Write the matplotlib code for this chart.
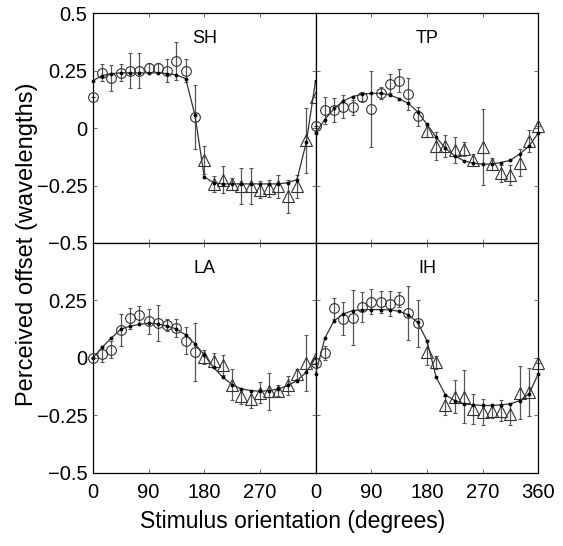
import numpy as np
import matplotlib.pyplot as plt

plt.rcParams['font.family'] = ['Liberation Sans', 'DejaVu Sans']

# orientations sampled every 15 degrees, 0..360
orient = np.arange(0, 361, 15)

names = ['SH', 'TP', 'LA', 'IH']

# observed offsets (wavelengths); 0..165 drawn as circles, 180..360 as triangles
sh_obs = [0.134, 0.24, 0.218, 0.24, 0.25, 0.25, 0.262, 0.262, 0.25, 0.291, 0.25, 0.049,
          -0.14, -0.243, -0.224, -0.243, -0.253, -0.253, -0.268, -0.263, -0.253, -0.297, -0.253, -0.054, 0.134]
tp_obs = [0.007, 0.078, 0.078, 0.093, 0.09, 0.134, 0.082, 0.151, 0.193, 0.206, 0.147, 0.051,
          -0.013, -0.079, -0.079, -0.096, -0.091, -0.14, -0.084, -0.157, -0.197, -0.204, -0.15, -0.057, 0.007]
la_obs = [0.0, 0.017, 0.036, 0.123, 0.172, 0.187, 0.159, 0.152, 0.143, 0.129, 0.075, 0.025,
          0.003, -0.012, -0.03, -0.116, -0.167, -0.178, -0.152, -0.146, -0.142, -0.12, -0.07, -0.023, 0.0]
ih_obs = [-0.022, 0.022, 0.216, 0.17, 0.174, 0.223, 0.245, 0.242, 0.235, 0.254, 0.196, 0.151,
          0.025, -0.019, -0.207, -0.168, -0.168, -0.222, -0.236, -0.233, -0.229, -0.243, -0.151, -0.149, -0.022]

# error bar half-lengths
sh_err = [0.0, 0.037, 0.055, 0.037, 0.077, 0.077, 0.022, 0.022, 0.05, 0.082, 0.05, 0.14,
          0.062, 0.035, 0.059, 0.026, 0.079, 0.079, 0.037, 0.037, 0.05, 0.072, 0.05, 0.14, 0.0]
tp_err = [0.0, 0.059, 0.051, 0.051, 0.033, 0.018, 0.165, 0.026, 0.04, 0.051, 0.07, 0.04,
          0.026, 0.06, 0.048, 0.055, 0.03, 0.026, 0.165, 0.026, 0.037, 0.044, 0.059, 0.048, 0.0]
la_err = [0.0, 0.036, 0.036, 0.07, 0.046, 0.04, 0.054, 0.08, 0.025, 0.04, 0.058, 0.127,
          0.03, 0.033, 0.043, 0.067, 0.033, 0.04, 0.046, 0.08, 0.025, 0.04, 0.022, 0.123, 0.0]
ih_err = [0.0, 0.03, 0.045, 0.072, 0.12, 0.065, 0.053, 0.047, 0.054, 0.034, 0.118, 0.103,
          0.054, 0.028, 0.043, 0.072, 0.116, 0.065, 0.056, 0.029, 0.047, 0.047, 0.116, 0.105, 0.0]

# model fit
sh_fit = [0.206, 0.228, 0.237, 0.24, 0.24, 0.24, 0.24, 0.24, 0.237, 0.231, 0.215, 0.056,
          -0.212, -0.238, -0.243, -0.243, -0.243, -0.243, -0.243, -0.243, -0.243, -0.238, -0.224, -0.062, 0.206]
tp_fit = [-0.022, 0.037, 0.085, 0.118, 0.137, 0.147, 0.151, 0.151, 0.144, 0.128, 0.107, 0.071,
          0.016, -0.04, -0.088, -0.121, -0.143, -0.153, -0.157, -0.157, -0.15, -0.14, -0.113, -0.079, -0.022]
la_fit = [0.0, 0.046, 0.087, 0.125, 0.138, 0.146, 0.151, 0.148, 0.138, 0.126, 0.1, 0.061,
          0.013, -0.041, -0.084, -0.116, -0.135, -0.142, -0.145, -0.142, -0.135, -0.12, -0.099, -0.062, 0.0]
ih_fit = [-0.07, 0.086, 0.162, 0.191, 0.206, 0.209, 0.21, 0.21, 0.209, 0.203, 0.187, 0.155,
          0.075, -0.084, -0.161, -0.186, -0.2, -0.204, -0.207, -0.207, -0.204, -0.2, -0.186, -0.157, -0.07]

obs = [sh_obs, tp_obs, la_obs, ih_obs]
errs = [sh_err, tp_err, la_err, ih_err]
fits = [sh_fit, tp_fit, la_fit, ih_fit]

fig = plt.figure(figsize=(5.63, 5.46), dpi=100)
gs = fig.add_gridspec(2, 2, left=0.165, right=0.956, top=0.976, bottom=0.134,
                      wspace=0, hspace=0)

half = 12  # first 12 points are circles
for k in range(4):
    ax = fig.add_subplot(gs[k // 2, k % 2])
    y = np.array(obs[k])
    e = np.array(errs[k])
    f = np.array(fits[k])
    ax.errorbar(orient, y, yerr=e, fmt='none', ecolor='#555555', elinewidth=0.9,
                capsize=1.5, capthick=0.8, clip_on=False, zorder=2)
    ax.plot(orient[:half], y[:half], 'o', mfc='none', mec='#333333', ms=7, mew=0.8,
            clip_on=False, zorder=3)
    ax.plot(orient[half:], y[half:], '^', mfc='none', mec='#333333', ms=8, mew=0.8,
            clip_on=False, zorder=3)
    ax.plot(orient, f, '-', color='#333333', lw=0.9, clip_on=False, zorder=4)
    ax.plot(orient, f, '.', color='black', ms=3.5, clip_on=False, zorder=5)

    ax.set_xlim(0, 360)
    ax.set_ylim(-0.5, 0.5)
    ax.set_xticks([0, 90, 180, 270, 360])
    ax.set_yticks([-0.5, -0.25, 0, 0.25, 0.5])
    ax.tick_params(direction='in', top=True, right=True, length=3, width=0.6,
                   labelsize=14.5, colors='#555555', labelcolor='black')
    ax.tick_params(axis='x', pad=7)
    ax.tick_params(axis='y', pad=4)
    for s in ax.spines.values():
        s.set_linewidth(0.9)
    ax.text(0.5, 0.89, names[k], transform=ax.transAxes, ha='center', va='center',
            fontsize=13)

    if k % 2 == 0:
        if k == 0:
            ax.set_yticklabels(['\u22120.5', '\u22120.25', '0', '0.25', '0.5'])
        else:
            ax.set_yticklabels(['\u22120.5', '\u22120.25', '0', '0.25', ''])
    else:
        ax.set_yticklabels([])
    if k < 2:
        ax.set_xticklabels([])
    elif k == 2:
        ax.set_xticklabels(['0', '90', '180', '270', ''])
    else:
        ax.set_xticklabels(['0', '90', '180', '270', '360'])

fig.text(0.048, 0.553, 'Perceived offset (wavelengths)', rotation=90, ha='center',
         va='center', fontsize=17)
fig.text(0.52, 0.045, 'Stimulus orientation (degrees)', ha='center', va='center',
         fontsize=16.5)

fig.savefig('out.png', dpi=100)
